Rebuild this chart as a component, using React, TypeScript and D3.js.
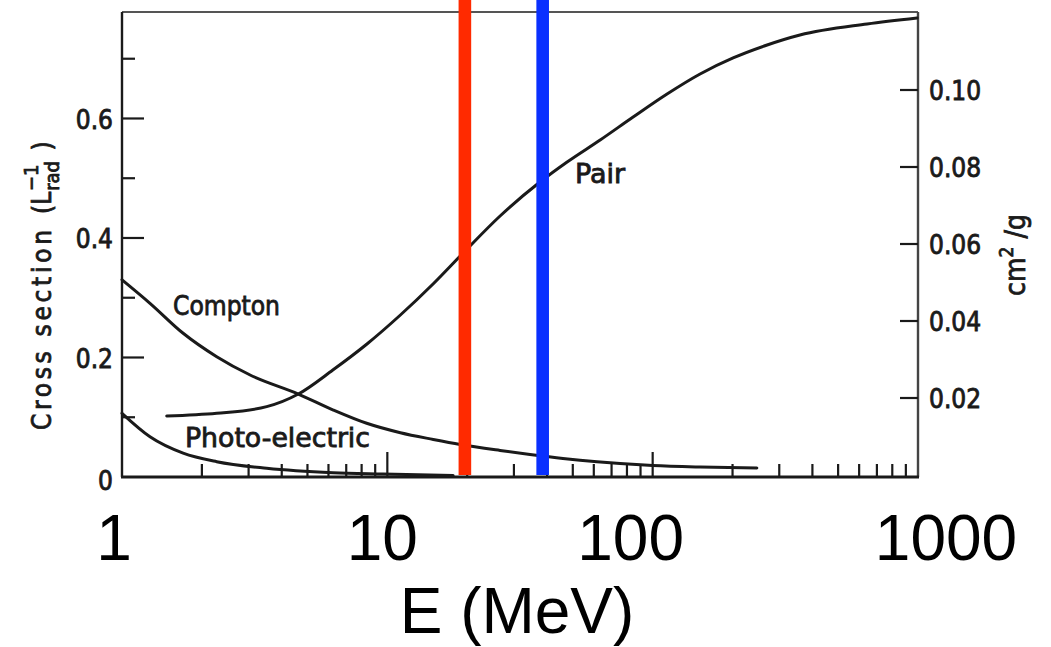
import React from "react";
import * as d3 from "d3";

// ---- data ----
const comptonE = [1, 1.275, 1.7, 2.275, 3.04, 4.62, 6.26, 8.36, 11.2, 14.9, 18.8, 26.6, 34.5, 45.9, 61.7, 100, 151, 247];
const comptonV = [0.33, 0.2907, 0.2405, 0.2013, 0.1707, 0.1389, 0.1121, 0.0899, 0.0741, 0.0628, 0.0544, 0.0444, 0.0377, 0.031, 0.0254, 0.0192, 0.0167, 0.0151];

const photoE = [1, 1.275, 1.7, 2.275, 3.51, 6.24, 9.63, 17.7];
const photoV = [0.1066, 0.0674, 0.04, 0.0256, 0.0146, 0.0072, 0.005, 0.0025];

const pairE = [1.474, 2.275, 3.51, 4.62, 6.23, 8.38, 11.2, 14.87, 19.63, 26.6, 37.6, 47.6, 63.4, 84.4, 113.3, 150.9, 201, 270, 359, 643, 992];
const pairV = [0.102, 0.1066, 0.1177, 0.1389, 0.179, 0.2226, 0.2711, 0.323, 0.3782, 0.4368, 0.4937, 0.5272, 0.564, 0.6025, 0.641, 0.6745, 0.7013, 0.723, 0.7397, 0.7582, 0.7682];

const markerE = [19.6, 38.5];
const markerColors = ["#ff2a00", "#0a30ff"];

const leftMajorTicks = [0, 0.2, 0.4, 0.6];
const leftMinorTicks = [0.1, 0.3, 0.5, 0.7];
const rightTicks = [0.02, 0.04, 0.06, 0.08, 0.1];
const rightTickLabels = ["0.02", "0.04", "0.06", "0.08", "0.10"];
const bottomMajorTicks = [10, 100];
const bottomMinorTicks = [2, 3, 4, 5, 6, 7, 8, 9, 20, 30, 40, 50, 60, 70, 80, 90, 200, 300, 400, 500, 600, 700, 800, 900];
const bigTickValues = [1, 10, 100, 1000];
const bigTickLabels = ["1", "10", "100", "1000"];
const bigTickShift = [-8, -5, -22, 28]; // overlay labels are placed loosely

// ---- layout ----
const W = 1051;
const H = 647;
const L = 122, R = 918, T = 12, B = 477;

const FONT = "'DejaVu Sans Condensed', 'DejaVu Sans', sans-serif";
const INK = "#1a1a1a";
const BIG = "'Liberation Sans', Arial, sans-serif";

export default function App() {
  const x = d3.scaleLog().domain([1, 1000]).range([L, R]);
  const y = d3.scaleLinear().domain([0, 0.7782]).range([B, T]);
  const yR = d3.scaleLinear().domain([0, 0.12]).range([475, 13]);

  const line = d3
    .line<[number, number]>()
    .x((d) => x(d[0]))
    .y((d) => y(d[1]))
    .curve(d3.curveMonotoneX);

  const series = [
    { e: comptonE, v: comptonV },
    { e: photoE, v: photoV },
    { e: pairE, v: pairV },
  ];

  const fmtLeft = (v: number) => (v === 0 ? "0" : d3.format(".1f")(v));
  const txt = {
    fontFamily: FONT,
    fontStretch: "condensed" as const,
    fill: INK,
    stroke: INK,
    strokeWidth: 0.8,
  };

  return (
    <div style={{ position: "absolute", left: 0, top: 0, width: W, height: H, background: "#fff" }}>
      <svg width={W} height={H} style={{ display: "block" }}>
        <rect x={0} y={0} width={W} height={H} fill="#fff" />
        {/* frame */}
        <line x1={L} x2={R} y1={T} y2={T} stroke="#555" strokeWidth={2} />
        <line x1={L} x2={L} y1={T} y2={B} stroke={INK} strokeWidth={2.4} />
        <line x1={R} x2={R} y1={T} y2={B} stroke="#444" strokeWidth={2.4} />
        <line x1={L - 1} x2={R + 1} y1={B} y2={B} stroke={INK} strokeWidth={2.8} />

        {/* left ticks */}
        {leftMajorTicks.map((t) => (
          <g key={"lm" + t}>
            {t > 0 && <line x1={L} x2={L + 22} y1={y(t)} y2={y(t)} stroke={INK} strokeWidth={2.2} />}
            <text x={113} y={y(t) + (t === 0 ? 5 : 3)} textAnchor="end" dominantBaseline="middle"
              fontSize={26} {...txt}>
              {fmtLeft(t)}
            </text>
          </g>
        ))}
        {leftMinorTicks.map((t) => (
          <line key={"ln" + t} x1={L} x2={L + 13} y1={y(t)} y2={y(t)} stroke={INK} strokeWidth={2.2} />
        ))}

        {/* right ticks */}
        {rightTicks.map((t, i) => (
          <g key={"r" + t}>
            <line x1={R - 18} x2={R} y1={yR(t)} y2={yR(t)} stroke={INK} strokeWidth={2.2} />
            <text x={929} y={yR(t) + 2} dominantBaseline="middle" fontSize={26} {...txt}>
              {rightTickLabels[i]}
            </text>
          </g>
        ))}

        {/* bottom ticks */}
        {bottomMinorTicks.map((t) => (
          <line key={"bn" + t} x1={x(t)} x2={x(t)} y1={B} y2={B - 13} stroke={INK} strokeWidth={2.2} />
        ))}
        {bottomMajorTicks.map((t) => (
          <line key={"bm" + t} x1={x(t)} x2={x(t)} y1={B} y2={B - 25} stroke={INK} strokeWidth={2.2} />
        ))}

        {/* curves */}
        {series.map((s, i) => (
          <path key={"s" + i}
            d={line(s.e.map((e, j) => [e, s.v[j]] as [number, number])) || ""}
            fill="none" stroke={INK} strokeWidth={3} strokeLinecap="round" />
        ))}

        {/* curve labels */}
        <text x={173} y={315} fontSize={27} {...txt} textLength={107} lengthAdjust="spacingAndGlyphs">Compton</text>
        <text x={185} y={447} fontSize={27} {...txt} textLength={185} lengthAdjust="spacingAndGlyphs">Photo-electric</text>
        <text x={575} y={183} fontSize={27} {...txt} textLength={50} lengthAdjust="spacingAndGlyphs">Pair</text>

        {/* left axis title */}
        <text transform="translate(51,430) rotate(-90)" fontSize={26} {...txt}
          textLength={200} lengthAdjust="spacing">Cross section</text>
        <text transform="translate(51,214) rotate(-90)" fontSize={26} {...txt}>
          (L<tspan fontSize={20} dy={8} dx={1}>rad</tspan>
          <tspan fontSize={20} dy={-21} dx={-30}>−1</tspan>
          <tspan dy={13} dx={14}>)</tspan>
        </text>
        {/* right axis title */}
        <text transform="translate(1025,255) rotate(-90)" textAnchor="middle" fontSize={28} {...txt}>
          cm<tspan fontSize={19} dy={-12}>2</tspan><tspan dy={12}> /g</tspan>
        </text>

        {/* marker bars */}
        {markerE.map((e, i) => (
          <rect key={"m" + i} x={x(e) - 6.3} y={0} width={12.6} height={475} fill={markerColors[i]} />
        ))}

        {/* overlay axis labels */}
        {bigTickValues.map((v, i) => (
          <text key={"bt" + v} x={x(v) + bigTickShift[i]} y={560} textAnchor="middle"
            fontFamily={BIG} fontSize={64} fill="#000">
            {bigTickLabels[i]}
          </text>
        ))}
        <text x={517} y={633} textAnchor="middle" fontFamily={BIG} fontSize={64} fill="#000">
          E (MeV)
        </text>
      </svg>
    </div>
  );
}
